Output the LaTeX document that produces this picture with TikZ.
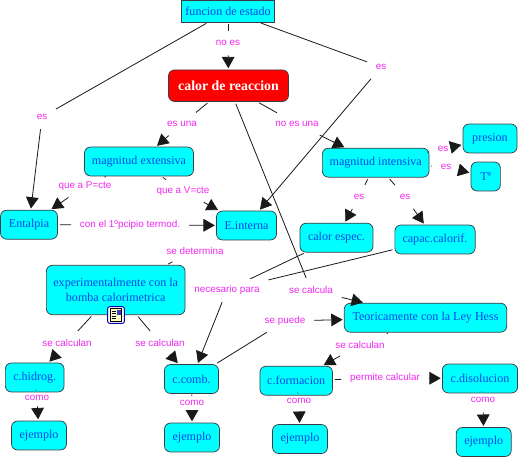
\documentclass[tikz,border=0pt]{standalone}
\usepackage{fontspec}
\setmainfont{Liberation Serif}
\setsansfont{Liberation Sans}
\usetikzlibrary{arrows.meta}
\definecolor{conceptblue}{RGB}{0,70,235}
\definecolor{boxcyan}{RGB}{0,255,255}
\definecolor{linkmagenta}{RGB}{240,40,240}
\tikzset{
  concept/.style={draw=black!85!cyan,fill=boxcyan,rounded corners=4.5pt,text=conceptblue,font=\fontsize{9.05}{11.5}\selectfont,align=center,inner sep=0pt,line width=.55pt},
  linklabel/.style={text=linkmagenta,font=\sffamily\fontsize{7.4}{9}\selectfont,inner xsep=5pt,inner ysep=0pt,minimum height=15pt},
  plainlink/.style={black!90,line width=.6pt,shorten <=1.5pt,shorten >=1.5pt},
  arrowlink/.style={plainlink,-{Triangle[length=8.5pt,width=9.5pt]},shorten >=1pt},
}
\begin{document}
\begin{tikzpicture}[x=.75pt,y=-.75pt]
  \path[use as bounding box,fill=white] (0,0) rectangle (520,459);
  \node[concept,rounded corners=0pt,minimum width=69.5pt,minimum height=16.5pt] (funcion) at (228,11) {funcion de estado};
  \node[concept,fill=red,text=white,font=\bfseries\fontsize{10.4}{12}\selectfont,minimum width=90pt,minimum height=23.6pt] (calor) at (228.5,85.7) {calor de reaccion};
  \node[concept,minimum width=81.7pt,minimum height=21.7pt] (extensiva) at (139,161.5) {magnitud extensiva};
  \node[concept,minimum width=80pt,minimum height=21.7pt] (intensiva) at (375.7,162.7) {magnitud intensiva};
  \node[concept,minimum width=40.5pt,minimum height=21.7pt] (presion) at (490,138.5) {presion};
  \node[concept,minimum width=22pt,minimum height=21.7pt] (tempe) at (485.7,176.5) {Tª};
  \node[concept,minimum width=42.7pt,minimum height=21.7pt] (entalpia) at (29,224.7) {Entalpia};
  \node[concept,minimum width=45pt,minimum height=21.7pt] (einterna) at (246.5,225.5) {E.interna};
  \node[concept,minimum width=54.7pt,minimum height=21.7pt] (espec) at (336.5,237.7) {calor espec.};
  \node[concept,minimum width=60.2pt,minimum height=21.7pt] (capac) at (435,239.5) {capac.calorif.};
  \node[concept,minimum width=104pt,minimum height=37pt] (bomba) at (115.7,290) {experimentalmente con la\\bomba calorimetrica};
  \node[concept,minimum width=44pt,minimum height=21.7pt] (hidrog) at (34.7,377.5) {c.hidrog.};
  \node[concept,minimum width=40.5pt,minimum height=21.7pt] (comb) at (191.5,379) {c.comb.};
  \node[concept,minimum width=41.2pt,minimum height=21.7pt] (ejemploa) at (39,435.5) {ejemplo};
  \node[concept,minimum width=41.2pt,minimum height=21.7pt] (ejemplob) at (192,437.5) {ejemplo};
  \node[concept,minimum width=121.8pt,minimum height=21.7pt] (hess) at (425.5,317.7) {Teoricamente con la Ley Hess};
  \node[concept,minimum width=54.4pt,minimum height=21.7pt] (formacion) at (296.2,380.7) {c.formacion};
  \node[concept,minimum width=56.4pt,minimum height=21.7pt] (disolucion) at (480,378.5) {c.disolucion};
  \node[concept,minimum width=41.2pt,minimum height=21.7pt] (ejemploc) at (300,439) {ejemplo};
  \node[concept,minimum width=41.2pt,minimum height=21.7pt] (ejemplod) at (483.7,442) {ejemplo};

  \node[linklabel] (noes) at (228,43) {no es};
  \node[linklabel] (esa) at (42,117) {es};
  \node[linklabel] (esb) at (381,67) {es};
  \node[linklabel] (esuna) at (182,124) {es una};
  \node[linklabel] (noesuna) at (297,124) {no es una};
  \node[linklabel] (quep) at (85,186) {que a P=cte};
  \node[linklabel] (quev) at (183,191) {que a V=cte};
  \node[linklabel] (primero) at (130,225) {con el 1ºpcipio termod.};
  \node[linklabel] (determina) at (195,250.7) {se determina};
  \node[linklabel] (necesario) at (227,290) {necesario para};
  \node[linklabel] (calcula) at (311,290) {se calcula};
  \node[linklabel] (puede) at (285,321) {se puede};
  \node[linklabel] (calculana) at (67,342.7) {se calculan};
  \node[linklabel] (calculanb) at (160,342.7) {se calculan};
  \node[linklabel] (calculanc) at (360,344.7) {se calculan};
  \node[linklabel] (comoa) at (37,398) {como};
  \node[linklabel] (comob) at (192,403) {como};
  \node[linklabel] (comoc) at (299,401) {como};
  \node[linklabel] (comod) at (483,400) {como};
  \node[linklabel] (permite) at (385,378) {permite calcular};
  \node[linklabel] (esc) at (443,149) {es};
  \node[linklabel] (esd) at (446,167) {es};
  \node[linklabel] (ese) at (359,197) {es};
  \node[linklabel] (esf) at (405,197) {es};

  \foreach \from/\to in {funcion/noes,funcion/esa,funcion/esb,calor/esuna,calor/noesuna,calor/calcula,
    extensiva/quep,extensiva/quev,entalpia/primero,einterna/determina,determina/bomba,bomba/calculana,bomba/calculanb,
    hidrog/comoa,comb/comob,espec/necesario,capac/necesario,comb/puede,hess/calculanc,formacion/comoc,
    formacion/permite,disolucion/comod,intensiva/esc,intensiva/esd,intensiva/ese,intensiva/esf}
    \draw[plainlink] (\from)--(\to);
  \foreach \from/\to in {noes/calor,esa/entalpia,esb/einterna,esuna/extensiva,noesuna/intensiva,calcula/hess,
    quep/entalpia,quev/einterna,primero/einterna,calculana/hidrog,calculanb/comb,
    comoa/ejemploa,comob/ejemplob,necesario/comb,puede/hess,calculanc/formacion,comoc/ejemploc,
    permite/disolucion,comod/ejemplod,esc/presion,esd/tempe,ese/espec,esf/capac}
    \draw[arrowlink] (\from)--(\to);

  \node[draw=blue!70!black,fill=white,rounded corners=1.5pt,line width=.7pt,minimum size=12.5pt,inner sep=0pt] (notes) at (116,315) {};
  \fill[yellow!25] (110.5,308.5) rectangle (121.5,321.5);
  \draw[black,line width=.5pt] (110.5,308.5) rectangle (121.5,321.5);
  \foreach \y in {311,313.5,316,318.5}
    \draw[black,line width=.5pt] (111.5,\y)--(116,\y);
  \fill[blue!55!gray] (116.5,309.5) rectangle (120.5,315);
\end{tikzpicture}
\end{document}
